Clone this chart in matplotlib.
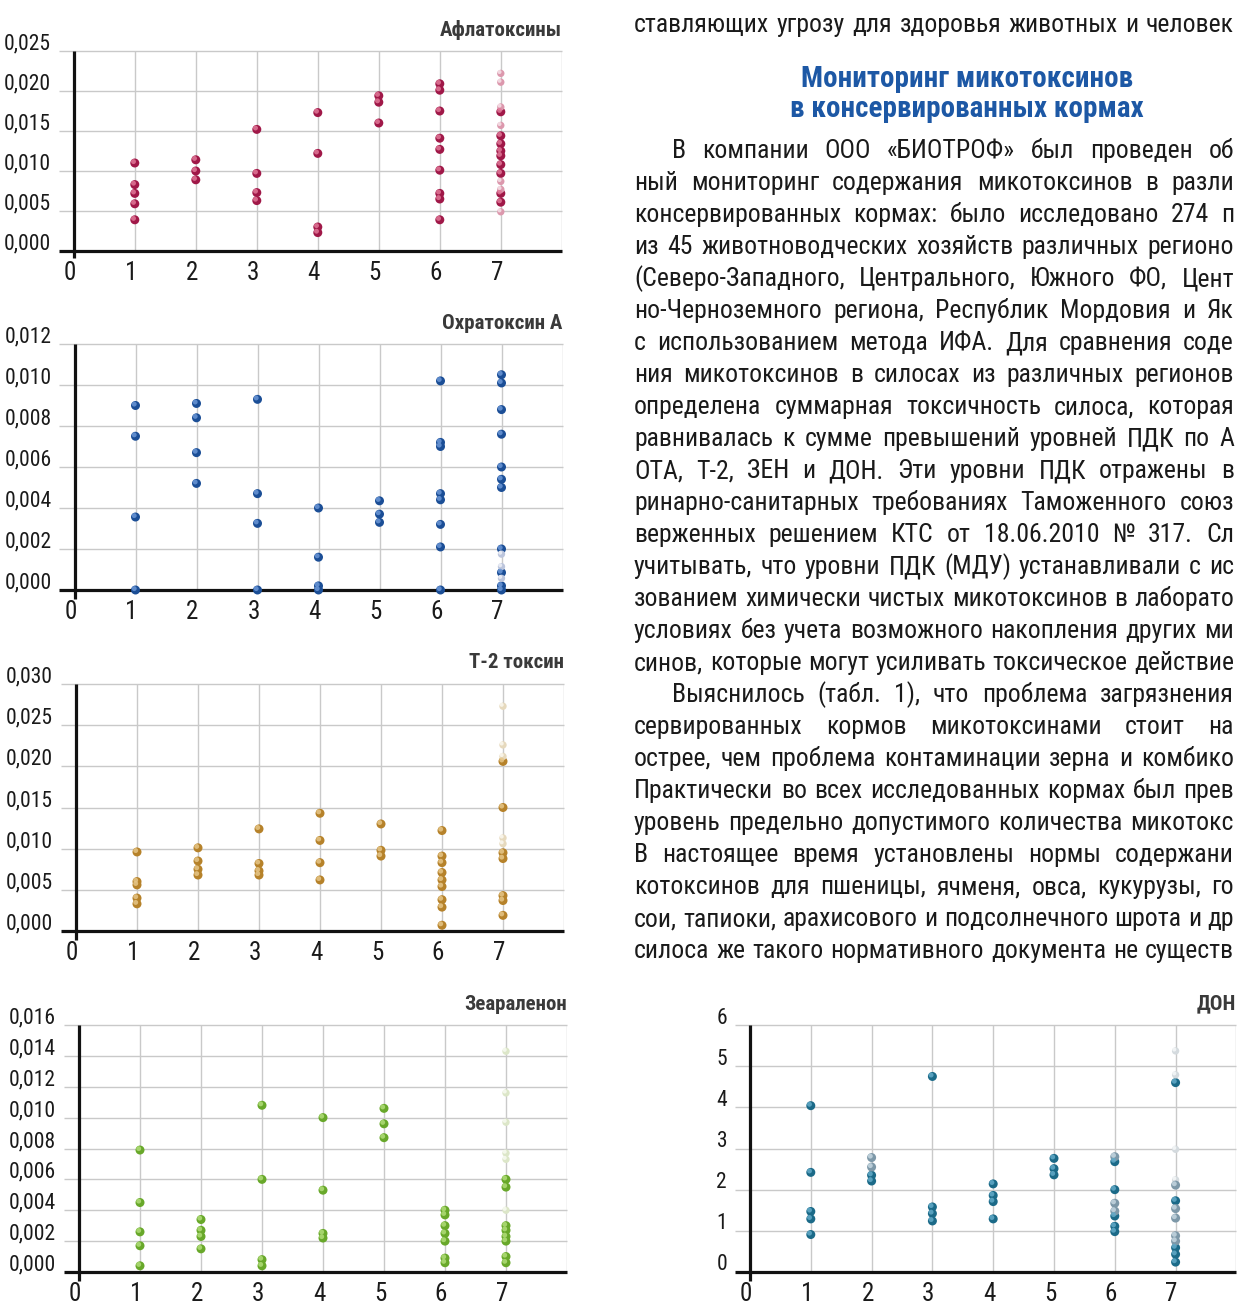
import os

import matplotlib
matplotlib.use("Agg")
import matplotlib.pyplot as plt
import numpy as np
from matplotlib import font_manager as fm
from matplotlib.transforms import offset_copy

W, H = 1237, 1305

# --- данные (значения по категориям 1..7) ---
afla_vals = [
    [0.0110, 0.0083, 0.0072, 0.0059, 0.0039],
    [0.0114, 0.0100, 0.0089],
    [0.0152, 0.0097, 0.0073, 0.0063],
    [0.0173, 0.0122, 0.0030, 0.0023],
    [0.0194, 0.0186, 0.0160],
    [0.0209, 0.0201, 0.0175, 0.0141, 0.0127, 0.0101, 0.0072, 0.0065, 0.0039],
    [0.0174, 0.0144, 0.0134, 0.0125, 0.0119, 0.0108, 0.0097, 0.0072, 0.0061],
]
afla_pale = [0.0222, 0.0211, 0.0180, 0.0157, 0.0087, 0.0077, 0.0049]

ochra_vals = [
    [0.0090, 0.0075, 0.00356, 0.0000],
    [0.0091, 0.0084, 0.0067, 0.0052],
    [0.0093, 0.0047, 0.00325, 0.0000],
    [0.0040, 0.0016, 0.0002, 0.0000],
    [0.00435, 0.0037, 0.0033],
    [0.0102, 0.0072, 0.0070, 0.0047, 0.0044, 0.0032, 0.0021, 0.0000],
    [0.0105, 0.0101, 0.0088, 0.0076, 0.0060, 0.0054, 0.0050, 0.0020, 0.00085, 0.0002, 0.0000],
]
ochra_pale = [0.00175, 0.00114, 0.00057]

t2_vals = [
    [0.0096, 0.0060, 0.0056, 0.0040, 0.0033],
    [0.0101, 0.0085, 0.0075, 0.0068],
    [0.0124, 0.0082, 0.0073, 0.0068],
    [0.0143, 0.0110, 0.0083, 0.0062],
    [0.0130, 0.0098, 0.0091],
    [0.0122, 0.0091, 0.0083, 0.0071, 0.0062, 0.0054, 0.0038, 0.0029, 0.0007],
    [0.0206, 0.0150, 0.0095, 0.0088, 0.0043, 0.0037, 0.0019],
]
t2_pale = [0.0273, 0.0226, 0.0212, 0.0113, 0.0106]

zen_vals = [
    [0.0079, 0.0045, 0.0026, 0.0017, 0.0004],
    [0.0034, 0.0027, 0.0023, 0.0015],
    [0.0108, 0.0060, 0.0008, 0.0004],
    [0.0100, 0.0053, 0.0025, 0.0022],
    [0.0106, 0.0096, 0.0087],
    [0.0040, 0.0037, 0.0030, 0.0025, 0.0020, 0.0009, 0.0006],
    [0.0060, 0.0055, 0.0030, 0.0027, 0.0023, 0.0020, 0.0010, 0.0006],
]
zen_pale = [0.0143, 0.0116, 0.0097, 0.0077, 0.0073, 0.0040]

don_vals = [
    [4.04, 2.42, 1.47, 1.29, 0.91],
    [2.35, 2.21],
    [4.75, 1.58, 1.42, 1.24],
    [2.14, 1.86, 1.71, 1.29],
    [2.76, 2.51, 2.36],
    [2.68, 2.00, 1.36, 1.11, 0.98],
    [4.60, 1.73, 0.59, 0.43, 0.24],
]
don_grey_x = [2, 2, 6, 6, 6, 7, 7, 7, 7, 7]
don_grey_y = [2.78, 2.55, 2.80, 1.67, 1.48, 2.11, 1.54, 1.31, 0.88, 0.75]
don_pale = [5.37, 4.79, 2.98, 2.24]

titles = ["Афлатоксины", "Охратоксин А", "Т-2 токсин", "Зеараленон", "ДОН"]

top_line = "ставляющих угрозу для здоровья животных и человек"
heading = ["Мониторинг микотоксинов", "в консервированных кормах"]
body_lines = [
    "В компании ООО «БИОТРОФ» был проведен об",
    "ный мониторинг содержания микотоксинов в разли",
    "консервированных кормах: было исследовано 274 п",
    "из 45 животноводческих хозяйств различных регионо",
    "(Северо-Западного, Центрального, Южного ФО, Цент",
    "но-Черноземного региона, Республик Мордовия и Як",
    "с использованием метода ИФА. Для сравнения соде",
    "ния микотоксинов в силосах из различных регионов",
    "определена суммарная токсичность силоса, которая",
    "равнивалась к сумме превышений уровней ПДК по А",
    "ОТА, Т-2, ЗЕН и ДОН. Эти уровни ПДК отражены в",
    "ринарно-санитарных требованиях Таможенного союз",
    "верженных решением КТС от 18.06.2010 № 317. Сл",
    "учитывать, что уровни ПДК (МДУ) устанавливали с ис",
    "зованием химически чистых микотоксинов в лаборато",
    "условиях без учета возможного накопления других ми",
    "синов, которые могут усиливать токсическое действие",
    "Выяснилось (табл. 1), что проблема загрязнения",
    "сервированных кормов микотоксинами стоит на",
    "острее, чем проблема контаминации зерна и комбико",
    "Практически во всех исследованных кормах был прев",
    "уровень предельно допустимого количества микотокс",
    "В настоящее время установлены нормы содержани",
    "котоксинов для пшеницы, ячменя, овса, кукурузы, го",
    "сои, тапиоки, арахисового и подсолнечного шрота и др",
    "силоса же такого нормативного документа не существ",
]
indented = {0, 17}

GRID = "#c9c9c9"
AXIS = "#111111"
TEXT = "#1a1a1a"


def find_narrow(bold):
    order = ["liberation sans narrow", "roboto condensed", "open sans condensed",
             "noto sans", "dejavu sans", "roboto", "open sans", "lato", "inter"]
    best, best_rank = None, 99
    for f in fm.fontManager.ttflist:
        base = os.path.basename(f.fname).lower()
        name = f.name.lower()
        if f.style != "normal" or "mono" in base or "serif" in name:
            continue
        narrow = ("narrow" in base or "condensed" in base or "narrow" in name
                  or "condensed" in name or f.stretch == "condensed")
        if not narrow or "semi" in base or "extra" in base or "ultra" in base:
            continue
        try:
            w = int(f.weight)
        except (TypeError, ValueError):
            w = 700 if "bold" in str(f.weight) else 400
        if bold and not (600 <= w <= 800):
            continue
        if not bold and not (350 <= w <= 500):
            continue
        rank = next((i for i, o in enumerate(order) if name.startswith(o)), len(order))
        if rank < best_rank:
            best, best_rank = f.fname, rank
    return best


reg_path = find_narrow(False)
bold_path = find_narrow(True)
k_reg = 1.0 if reg_path else 0.8
k_bold = 1.0 if bold_path else 0.78


def font(size, bold=False):
    path = bold_path if bold else reg_path
    if path:
        return fm.FontProperties(fname=path, size=size * (k_bold if bold else k_reg))
    return fm.FontProperties(family="DejaVu Sans", weight="bold" if bold else "normal",
                             size=size * (k_bold if bold else k_reg))


fig = plt.figure(figsize=(W / 100, H / 100), dpi=100)
fig.patch.set_facecolor("white")


def make_ax(x0, unit, top_px, bottom_px):
    return fig.add_axes([x0 / W, 1 - bottom_px / H, 8 * unit / W, (bottom_px - top_px) / H])


def sphere(ax, xs, ys, base, hi, size):
    ax.scatter(xs, ys, s=size, color=base, edgecolors="none", zorder=4, clip_on=False)
    tr = offset_copy(ax.transData, fig=fig, x=-1.3, y=1.4, units="dots")
    ax.scatter(xs, ys, s=size * 0.3, color=hi, edgecolors="none", alpha=0.85,
               zorder=5, clip_on=False, transform=tr)


def panel(ax, vals, pale, top, step, title, base, hi, pale_base, pale_hi, decimals=3):
    ax.set_xlim(0, 8)
    ax.set_ylim(0, top)
    ax.axis("off")
    ticks = np.arange(0, top + step / 2, step)
    ax.hlines(ticks[1:], -0.25, 8, color=GRID, lw=1.0, clip_on=False, zorder=1)
    ax.vlines(np.arange(1, 9), 0, top, color=GRID, lw=1.0, zorder=1)
    ax.plot([-0.25, 8], [0, 0], color=AXIS, lw=2.3, clip_on=False, zorder=2,
            solid_capstyle="butt")
    ax.plot([0, 0], [-top * 0.035, top], color=AXIS, lw=2.3, clip_on=False, zorder=2,
            solid_capstyle="butt")

    ytr = offset_copy(ax.transData, fig=fig, x=-23, y=7, units="dots")
    for t in ticks:
        lab = f"{t:.{decimals}f}".replace(".", ",") if decimals else f"{t:.0f}"
        ax.text(0, t, lab, transform=ytr, ha="right", va="center",
                fontproperties=font(15.5), color=TEXT)
    xtr = offset_copy(ax.transData, fig=fig, x=-4, y=-22, units="dots")
    for i in range(8):
        ax.text(i, 0, str(i), transform=xtr, ha="center", va="center",
                fontproperties=font(18), color=TEXT)
    ttr = offset_copy(ax.transData, fig=fig, x=0, y=21, units="dots")
    ax.text(8, top, title, transform=ttr, ha="right", va="center",
            fontproperties=font(15, bold=True), color="#3a3a3a")

    for i, col in enumerate(vals, start=1):
        sphere(ax, [i] * len(col), col, base, hi, 42)
    sphere(ax, [7] * len(pale), pale, pale_base, pale_hi, 28)


ax1 = make_ax(73.8, 61.0, 51, 251)
panel(ax1, afla_vals, afla_pale, 0.025, 0.005, titles[0],
      "#a01848", "#e07898", "#dc98ad", "#f6e2e8")

ax2 = make_ax(74.5, 61.0, 344, 590)
panel(ax2, ochra_vals, ochra_pale, 0.012, 0.002, titles[1],
      "#1b4e96", "#6a96d6", "#bcc5dc", "#eef0f7")

ax3 = make_ax(76.0, 61.0, 684, 931)
panel(ax3, t2_vals, t2_pale, 0.030, 0.005, titles[2],
      "#b6822a", "#e6c688", "#e6d9bd", "#fbf8f0")

ax4 = make_ax(79.0, 61.0, 1025, 1272)
panel(ax4, zen_vals, zen_pale, 0.016, 0.002, titles[3],
      "#68a82a", "#b0dc78", "#dce6c8", "#f8fbf2")

ax5 = make_ax(750.0, 60.8, 1025, 1272)
panel(ax5, don_vals, don_pale, 6, 1, titles[4],
      "#1b6a88", "#62aac8", "#d4dade", "#f6f8f9", decimals=0)
sphere(ax5, don_grey_x, don_grey_y, "#7d98a8", "#c4d6e0", 42)

# --- текст справа (по ширине, край страницы обрезан) ---
renderer = fig.canvas.get_renderer()
BODY_SIZE = 18.5


def space_width(fp):
    a = fig.text(0, 0, "н н", fontproperties=fp)
    b = fig.text(0, 0, "нн", fontproperties=fp)
    w = a.get_window_extent(renderer).width - b.get_window_extent(renderer).width
    a.remove()
    b.remove()
    return w


def justify(text, x_left, y_center, right_px=1234):
    words = text.split(" ")
    fp = font(BODY_SIZE)
    em_px = fp.get_size_in_points() * 100 / 72
    base_y = y_center + 0.36 * em_px
    objs = [fig.text(0, 1 - base_y / H, w, fontproperties=fp, color=TEXT,
                     va="baseline", ha="left") for w in words]
    widths = [o.get_window_extent(renderer).width for o in objs]
    space = space_width(fp)
    natural = sum(widths) + space * (len(words) - 1)
    if natural > right_px - x_left:
        k = (right_px - x_left) / natural
        fp = font(BODY_SIZE * k)
        for o in objs:
            o.set_fontproperties(fp)
        widths = [o.get_window_extent(renderer).width for o in objs]
        space = space_width(fp)
    gap = space
    if len(words) > 1:
        gap = max(space, (right_px - x_left - sum(widths)) / (len(words) - 1))
    x = x_left
    for o, w in zip(objs, widths):
        o.set_x(x / W)
        x += w + gap


justify(top_line, 634, 23)
for i, line in enumerate(heading):
    fig.text(967 / W, 1 - (79 + 30 * i) / H, line, ha="center", va="center",
             fontproperties=font(21, bold=True), color="#1d58a5")
for i, line in enumerate(body_lines):
    justify(line, 672 if i in indented else 634, 149 + 32 * i)

fig.savefig("out.png", dpi=100, facecolor="white")
